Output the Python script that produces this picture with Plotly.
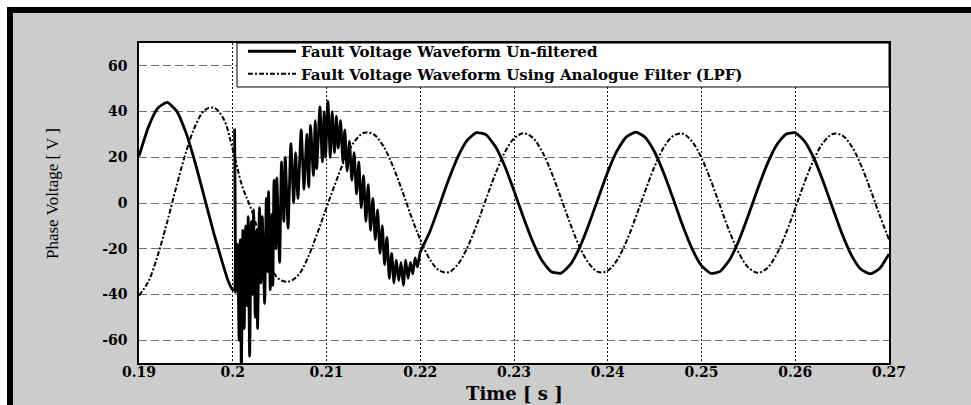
import plotly.graph_objects as go

# ---------------- data ----------------
# Filtered (analogue LPF) waveform, sampled every 1 ms from 0.190 s to 0.270 s
t_filtered = [round(0.190 + 0.001 * i, 3) for i in range(81)]
v_filtered = [
    -40.5, -34.3, -22.9, -8.4, 7.4, 22.1, 33.7, 40.6, 41.7, 37.0,
    23.5, 7.5, -3.0, -16.0, -27.5, -33.5, -34.3, -31.5, -24.0, -13.5,
    -2.0, 9.2, 19.5, 27.0, 30.7, 30.1, 25.3, 16.9, 6.2, -5.4,
    -16.0, -24.5, -29.4, -30.3, -26.9, -19.7, -9.8, 1.5, 12.6, 22.0,
    28.2, 30.5, 28.5, 22.5, 13.3, 2.3, -9.1, -19.2, -26.5, -30.2,
    -29.6, -24.9, -16.7, -6.1, 5.3, 16.0, 24.5, 29.4, 30.3, 26.9,
    19.7, 9.8, -1.5, -12.6, -22.0, -28.2, -30.5, -28.5, -22.5, -13.3,
    -2.3, 9.1, 19.2, 26.5, 30.2, 29.6, 24.9, 16.7, 6.1, -5.3,
    -16.0,
]

# Un-filtered fault waveform: pre-fault, transient (fault at 0.2 s), post-fault
t_prefault = [0.190, 0.191, 0.192, 0.193, 0.194, 0.195, 0.196, 0.197, 0.198,
              0.199, 0.1995, 0.2000, 0.20015]
v_prefault = [20.5, 33.2, 41.5, 44.0, 40.3, 30.9, 17.5, 2.0, -13.5,
              -27.5, -34.0, -38.0, -38.0]

t_transient = [
    0.20020, 0.20032, 0.20052, 0.20068, 0.20080, 0.20092, 0.20108, 0.20122,
    0.20138, 0.20155, 0.20165, 0.20180, 0.20198, 0.20212, 0.20222, 0.20240,
    0.20255, 0.20265, 0.20285, 0.20300, 0.20315, 0.20340, 0.20358, 0.20372,
    0.20382, 0.20400, 0.20418, 0.20428, 0.20440, 0.20460, 0.20470, 0.20500,
    0.20520, 0.20545, 0.20560, 0.20590, 0.20620, 0.20650, 0.20670, 0.20695,
    0.20730, 0.20760, 0.20790, 0.20810, 0.20830, 0.20860, 0.20880, 0.20895,
    0.20930, 0.20955, 0.20975, 0.20990, 0.21015, 0.21040, 0.21060, 0.21085,
    0.21105, 0.21125, 0.21150, 0.21175, 0.21195, 0.21220, 0.21245, 0.21270,
    0.21295, 0.21320, 0.21345, 0.21370, 0.21395, 0.21420, 0.21445, 0.21470,
    0.21495, 0.21520, 0.21545, 0.21570, 0.21595, 0.21620, 0.21645, 0.21670,
    0.21695, 0.21720, 0.21745, 0.21770, 0.21795, 0.21820, 0.21845, 0.21870,
    0.21895, 0.21920, 0.21945, 0.21970,
]
v_transient = [
    32, -39, -18, -60, -16, -75, -12, -55,
    -10, -45, -6, -67, -8, -40, -3, -50,
    -12, -55, -2, -35, -6, -44, 2, -30,
    5, -38, -5, -36, 10, -20, 11, -26,
    18, -8, 20, -11, 26, 0, 22, 2,
    32, 6, 30, 7, 34, 12, 36, 15,
    42, 18, 40, 20, 44.5, 20, 40, 22,
    38, 24, 36, 18, 32, 14, 27, 10,
    22, 4, 18, -2, 12, -8, 8, -12,
    2, -16, -3, -22, -10, -27, -15, -33,
    -22, -35, -25, -34, -26, -36, -25, -33,
    -26, -31, -24, -28,
]

t_postfault = [round(0.220 + 0.001 * i, 3) for i in range(51)]
v_postfault = [
    -21.5, -12.8, -1.6, 9.9, 20.1, 27.4, 30.8, 29.9, 24.8, 16.3,
    5.4, -6.2, -16.9, -25.3, -30.1, -30.7, -27.0, -19.5, -9.2, 2.3,
    13.6, 22.9, 29.0, 31.0, 28.7, 22.3, 12.8, 1.6, -10.0, -20.1,
    -27.4, -30.8, -29.9, -24.8, -16.3, -5.4, 6.2, 16.9, 25.3, 30.1,
    30.7, 27.0, 19.5, 9.2, -2.3, -13.6, -22.9, -29.0, -31.0, -28.7,
    -22.3,
]

t_unfiltered = t_prefault + t_transient + t_postfault
v_unfiltered = v_prefault + v_transient + v_postfault

x_tick_vals = [0.19, 0.20, 0.21, 0.22, 0.23, 0.24, 0.25, 0.26, 0.27]
x_tick_text = ["0.19", "0.2", "0.21", "0.22", "0.23", "0.24", "0.25", "0.26", "0.27"]
y_tick_vals = [-60, -40, -20, 0, 20, 40, 60]
y_tick_text = ["-60", "-40", "-20", "0", "20", "40", "60"]

name_unfiltered = "Fault Voltage Waveform Un-filtered"
name_filtered = "Fault Voltage Waveform Using Analogue Filter (LPF)"
x_title = "Time [ s ]"
y_title = "Phase Voltage [ V ]"

# ---------------- figure ----------------
W, H = 971, 405
ML, MT, PW, PH = 139, 43, 750, 320
MR, MB = W - ML - PW, H - MT - PH


def px_x(px):
    return (px - ML) / PW


def px_y(py):
    return (MT + PH - py) / PH


fig = go.Figure()
fig.add_trace(go.Scatter(
    x=t_unfiltered, y=v_unfiltered, mode="lines", name=name_unfiltered,
    line=dict(color="black", width=2.8, shape="spline", smoothing=0.5),
))
fig.add_trace(go.Scatter(
    x=t_filtered, y=v_filtered, mode="lines", name=name_filtered,
    line=dict(color="black", width=2, dash="5px,2px,2px,2px",
              shape="spline", smoothing=1),
))

tick_font = dict(family="DejaVu Serif", size=14, color="black", weight="bold")

fig.update_xaxes(
    range=[0.19, 0.27], tickvals=x_tick_vals, ticktext=x_tick_text,
    automargin=False,
    showgrid=True, gridcolor="#111111", gridwidth=1, griddash="2px,2px",
    showline=True, linecolor="black", linewidth=1.5, mirror=True,
    ticks="", tickfont=tick_font, zeroline=False, ticklabelstandoff=-5,
)
fig.update_yaxes(
    range=[-70, 70], tickvals=y_tick_vals, ticktext=y_tick_text,
    automargin=False,
    showgrid=True, gridcolor="#707070", gridwidth=1, griddash="8px,4px",
    showline=True, linecolor="black", linewidth=1.5, mirror=True,
    ticks="", tickfont=tick_font, zeroline=False, ticklabelstandoff=7,
)

shapes = [
    # white outer strips (top and left)
    dict(type="rect", xref="paper", yref="paper", layer="below",
         x0=px_x(0), x1=px_x(W), y0=px_y(0), y1=px_y(7),
         fillcolor="white", line=dict(width=0)),
    dict(type="rect", xref="paper", yref="paper", layer="below",
         x0=px_x(0), x1=px_x(7), y0=px_y(0), y1=px_y(H),
         fillcolor="white", line=dict(width=0)),
    # black frame bars
    dict(type="rect", xref="paper", yref="paper", layer="below",
         x0=px_x(7), x1=px_x(W), y0=px_y(7), y1=px_y(13),
         fillcolor="black", line=dict(width=0)),
    dict(type="rect", xref="paper", yref="paper", layer="below",
         x0=px_x(7), x1=px_x(13), y0=px_y(7), y1=px_y(H),
         fillcolor="black", line=dict(width=0)),
    # legend box
    dict(type="rect", xref="paper", yref="paper", layer="above",
         x0=px_x(237), x1=1.0, y0=px_y(87), y1=1.0,
         fillcolor="white", line=dict(color="black", width=1)),
]

fig.update_layout(
    width=W, height=H, autosize=False,
    margin=dict(l=ML, r=MR, t=MT, b=MB, pad=0, autoexpand=False),
    paper_bgcolor="#cccccc", plot_bgcolor="white",
    hovermode=False,
    shapes=shapes,
    showlegend=True,
    legend=dict(
        x=px_x(243), y=px_y(35), xanchor="left", yanchor="top",
        bgcolor="rgba(0,0,0,0)", borderwidth=0, itemwidth=48,
        font=dict(family="DejaVu Serif", size=15, color="black", weight="bold"),
        tracegroupgap=0,
    ),
    annotations=[
        dict(
            text=y_title, textangle=-90, showarrow=False,
            xref="paper", yref="paper", x=px_x(52), y=px_y(194),
            xanchor="center", yanchor="middle",
            font=dict(family="Liberation Serif", size=17, color="black"),
        ),
        dict(
            text=x_title, showarrow=False,
            xref="paper", yref="paper", x=px_x(514), y=px_y(393),
            xanchor="center", yanchor="middle",
            font=dict(family="DejaVu Serif", size=18, color="black", weight="bold"),
        ),
    ],
)

fig.write_html(
    "out.html",
    config={"responsive": False, "displayModeBar": False},
    post_script="document.body.style.margin='0px';"
                "document.documentElement.style.overflow='hidden';",
)
